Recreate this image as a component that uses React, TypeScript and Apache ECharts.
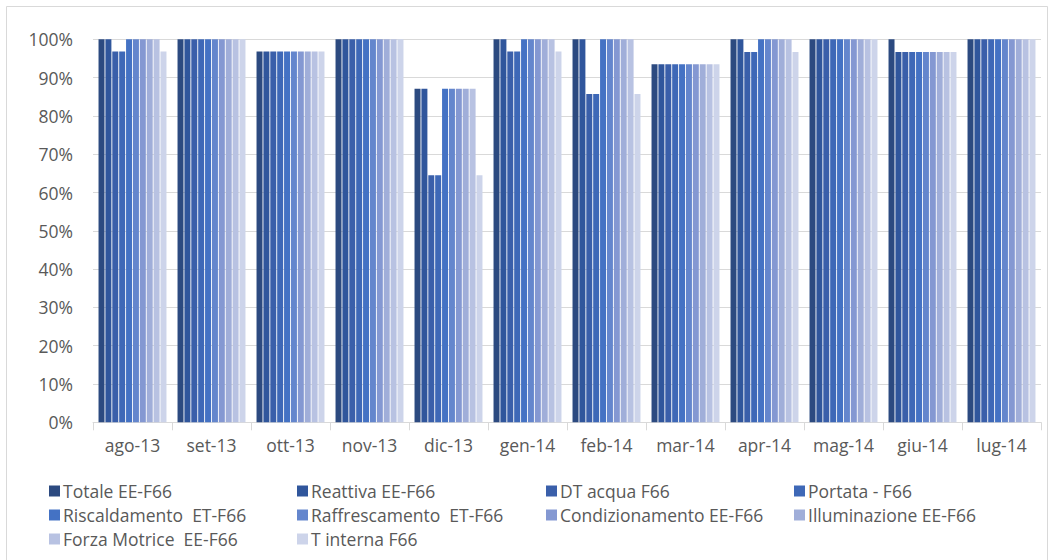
import React, { useEffect, useRef } from "react";
import * as echarts from "echarts";

// Monthly data availability per measurement channel (%)
const months = ["ago-13", "set-13", "ott-13", "nov-13", "dic-13", "gen-14", "feb-14", "mar-14", "apr-14", "mag-14", "giu-14", "lug-14"];

const seriesNames = [
  "Totale EE-F66",
  "Reattiva EE-F66",
  "DT acqua F66",
  "Portata - F66",
  "Riscaldamento  ET-F66",
  "Raffrescamento  ET-F66",
  "Condizionamento EE-F66",
  "Illuminazione EE-F66",
  "Forza Motrice  EE-F66",
  "T interna F66",
];

const totaleEE = [100, 100, 96.8, 100, 87.1, 100, 100, 93.5, 100, 100, 100, 100];
const reattivaEE = [100, 100, 96.8, 100, 87.1, 100, 100, 93.5, 100, 100, 96.7, 100];
const dtAcqua = [96.8, 100, 96.8, 100, 64.5, 96.8, 85.7, 93.5, 96.7, 100, 96.7, 100];
const portata = [96.8, 100, 96.8, 100, 64.5, 96.8, 85.7, 93.5, 96.7, 100, 96.7, 100];
const riscaldamento = [100, 100, 96.8, 100, 87.1, 100, 100, 93.5, 100, 100, 96.7, 100];
const raffrescamento = [100, 100, 96.8, 100, 87.1, 100, 100, 93.5, 100, 100, 96.7, 100];
const condizionamento = [100, 100, 96.8, 100, 87.1, 100, 100, 93.5, 100, 100, 96.7, 100];
const illuminazione = [100, 100, 96.8, 100, 87.1, 100, 100, 93.5, 100, 100, 96.7, 100];
const forzaMotrice = [100, 100, 96.8, 100, 87.1, 100, 100, 93.5, 100, 100, 96.7, 100];
const tInterna = [96.8, 100, 96.8, 100, 64.5, 96.8, 85.7, 93.5, 96.7, 100, 96.7, 100];

const seriesValues = [totaleEE, reattivaEE, dtAcqua, portata, riscaldamento, raffrescamento, condizionamento, illuminazione, forzaMotrice, tInterna];

const palette = ["#2C4A80", "#30569C", "#3A5FAA", "#3E68B7", "#4472C4", "#6486CD", "#8498D2", "#A0AED9", "#B8C2E2", "#CDD4EA"];

const yTicks = [0, 10, 20, 30, 40, 50, 60, 70, 80, 90, 100];

const FONT = "'Open Sans', 'Noto Sans', sans-serif";

// legend grid: 4 columns, 3 rows
const legendCols = [49, 297, 546, 794];
const legendRows = [482, 506, 530];

export default function App() {
  const ref = useRef<HTMLDivElement>(null);

  useEffect(() => {
    if (!ref.current) return;
    const chart = echarts.init(ref.current, undefined, { renderer: "svg" });

    const series = seriesNames.map((name, i) => ({
      name,
      type: "bar",
      data: seriesValues[i],
      barGap: "15%",
      barCategoryGap: "14%",
      itemStyle: { color: palette[i] },
    }));

    const legends = seriesNames.map((name, i) => ({
      left: legendCols[i % 4],
      top: legendRows[Math.floor(i / 4)],
      itemWidth: 11,
      itemHeight: 11,
      itemGap: 0,
      padding: 0,
      icon: "rect",
      data: [name],
      textStyle: { color: "#595959", fontFamily: FONT, fontSize: 17.5, padding: [0, 0, 0, -2] },
    }));

    chart.setOption({
      animation: false,
      backgroundColor: "#ffffff",
      color: palette,
      textStyle: { fontFamily: FONT },
      grid: { left: 93, right: 12, top: 39.3, bottom: 137.7, containLabel: false },
      xAxis: {
        type: "category",
        data: months,
        axisLine: { show: true, lineStyle: { color: "#D9D9D9", width: 1 } },
        axisTick: { show: true, interval: 0, length: 8, lineStyle: { color: "#D9D9D9" } },
        axisLabel: { interval: 0, color: "#595959", fontSize: 17.5, margin: 14, fontFamily: FONT },
      },
      yAxis: {
        type: "value",
        min: yTicks[0],
        max: yTicks[yTicks.length - 1],
        interval: 10,
        axisLine: { show: false },
        axisTick: { show: false },
        splitLine: { lineStyle: { color: "#D9D9D9", width: 1 } },
        axisLabel: { color: "#595959", fontSize: 17.5, margin: 20, fontFamily: FONT, formatter: "{value}%" },
      },
      legend: legends,
      graphic: [
        {
          type: "rect",
          shape: { x: 6.5, y: 6.5, width: 1041, height: 560 },
          style: { fill: "none", stroke: "#D9D9D9", lineWidth: 1 },
          silent: true,
        },
      ],
      series,
    });

    return () => chart.dispose();
  }, []);

  return (
    <div
      ref={ref}
      style={{ position: "fixed", left: 0, top: 0, width: 1053, height: 560 }}
    />
  );
}
